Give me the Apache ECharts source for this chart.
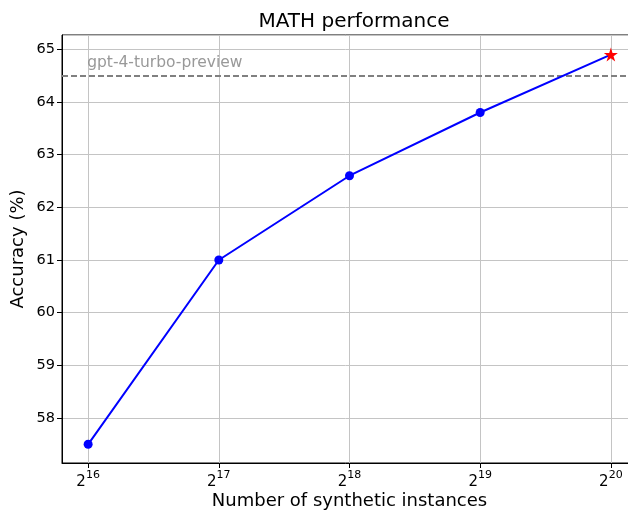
<!DOCTYPE html>
<html><head><meta charset="utf-8">
<script src="https://cdn.jsdelivr.net/npm/echarts@6/dist/echarts.min.js"></script>
<style>html,body{margin:0;padding:0;background:#fff}#c{width:628px;height:510px}</style>
</head><body><div id="c"></div>
<script>
const log2Instances = [16, 17, 18, 19, 20];
const accuracy = [57.5, 61.0, 62.6, 63.8, 64.9];
const baselineName = 'gpt-4-turbo-preview';
const baselineValue = 64.5;
const xTickLabels = ['16', '17', '18', '19', '20'];

const FONT = 'DejaVu Sans';
const STAR = 'path://M50,0 L61.2,34.5 L97.6,34.5 L68.2,55.9 L79.4,90.5 L50,69.1 L20.6,90.5 L31.8,55.9 L2.4,34.5 L38.8,34.5 Z';

const lineData = log2Instances.map((x, i) => {
  const last = i === log2Instances.length - 1;
  return last ? {value: [x, accuracy[i]], symbol: STAR, symbolSize: 14, itemStyle: {color: '#ff0000'}}
              : {value: [x, accuracy[i]]};
});

const chart = echarts.init(document.getElementById('c'), null, {renderer: 'canvas'});
chart.setOption({
  animation: false,
  backgroundColor: '#fff',
  title: {text: 'MATH performance', left: 349, textAlign: 'center', top: 7,
    textStyle: {fontFamily: FONT, fontSize: 20, fontWeight: 'normal', color: '#000'}},
  grid: {left: 62, top: 35, width: 575, height: 428, outerBoundsMode: 'none', containLabel: false,
    show: true, borderColor: '#000', borderWidth: 1, backgroundColor: 'transparent'},
  xAxis: {
    type: 'value', min: 15.8, max: 20.2, splitNumber: 4,
    axisLine: {lineStyle: {color: '#000', width: 1}},
    axisTick: {show: true, inside: false, length: 5, lineStyle: {color: '#000'}},
    splitLine: {show: true, lineStyle: {color: '#c4c4c4', width: 1}},
    axisLabel: {
      margin: 5, showMinLabel: false, showMaxLabel: false,
      formatter: v => {
        const i = log2Instances.indexOf(v);
        return i < 0 ? '' : '{b|2}{s|' + xTickLabels[i] + '}';
      },
      rich: {
        b: {fontFamily: FONT, fontSize: 15, color: '#000', lineHeight: 22, verticalAlign: 'bottom'},
        s: {fontFamily: FONT, fontSize: 11, color: '#000', lineHeight: 22, verticalAlign: 'bottom', padding: [0, 0, 9, 0]}
      }
    },
    name: 'Number of synthetic instances', nameLocation: 'middle', nameGap: 29, nameMoveOverlap: false,
    nameTextStyle: {fontFamily: FONT, fontSize: 18, color: '#000', verticalAlign: 'top'}
  },
  yAxis: {
    type: 'value', min: 57.145, max: 65.272, splitNumber: 8,
    axisLine: {show: true, lineStyle: {color: '#000', width: 1}},
    axisTick: {show: true, inside: false, length: 5, lineStyle: {color: '#000'}},
    splitLine: {show: true, lineStyle: {color: '#c4c4c4', width: 1}},
    axisLabel: {
      margin: 7, showMinLabel: false, showMaxLabel: false,
      fontFamily: FONT, fontSize: 14.5, color: '#000',
      formatter: v => Math.abs(v - Math.round(v)) < 1e-6 ? String(Math.round(v)) : ''
    },
    name: 'Accuracy (%)', nameLocation: 'middle', nameGap: 35, nameRotate: 90, nameMoveOverlap: false,
    nameTextStyle: {fontFamily: FONT, fontSize: 18, color: '#000'}
  },
  series: [
    {
      type: 'line', data: lineData, symbol: 'circle', symbolSize: 9,
      lineStyle: {color: '#0000ff', width: 2}, itemStyle: {color: '#0000ff'},
      z: 5,
      markLine: {
        silent: true, symbol: 'none',
        lineStyle: {color: '#808080', type: [6, 3], width: 2},
        label: {show: false},
        data: [{yAxis: baselineValue}]
      }
    },
    {
      type: 'scatter', data: [[log2Instances[0], baselineValue]], symbolSize: 0,
      label: {show: true, formatter: baselineName, position: [-1, -21],
        fontFamily: FONT, fontSize: 15.5, color: '#808080'},
      silent: true, z: 4
    }
  ]
});
</script></body></html>
